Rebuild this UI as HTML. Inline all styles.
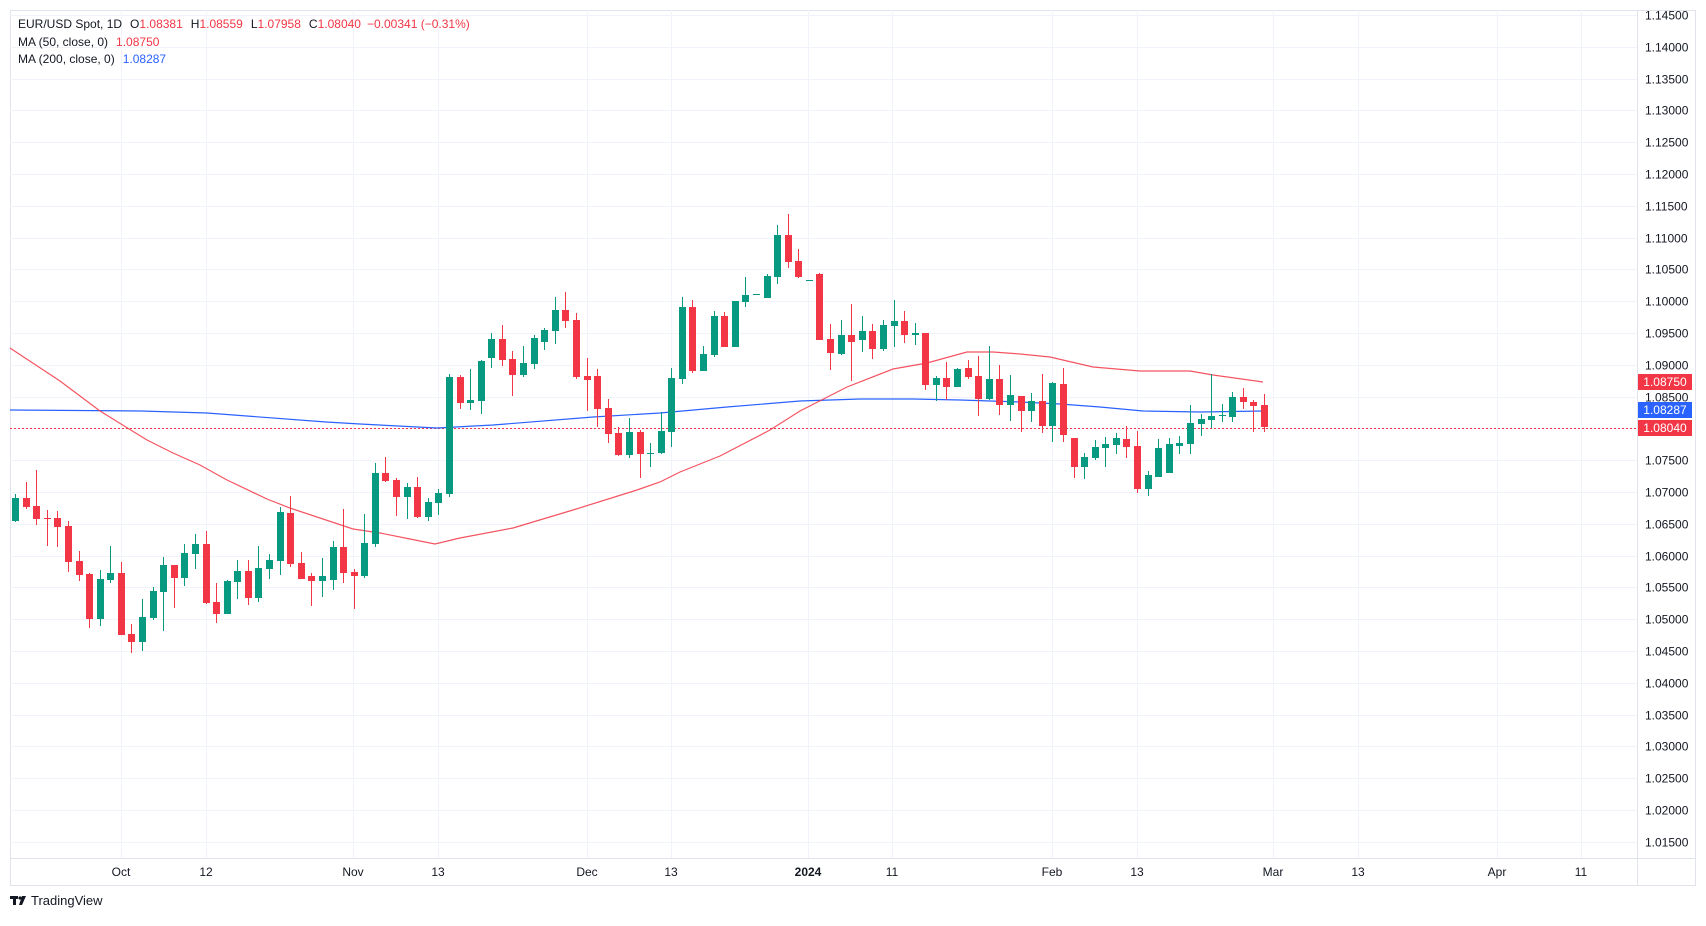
<!DOCTYPE html>
<html><head><meta charset="utf-8"><style>
html,body{margin:0;padding:0;background:#fff;}
body{width:1706px;height:921px;overflow:hidden;font-family:"Liberation Sans",sans-serif;}
svg text{font-family:"Liberation Sans",sans-serif;}
</style></head><body>
<svg id="s" width="1706" height="921" viewBox="0 0 1706 921" xmlns="http://www.w3.org/2000/svg">
<rect x="0" y="0" width="1706" height="921" fill="#fff"/>
<rect x="10.5" y="10.5" width="1685" height="875" fill="none" stroke="#e0e3eb"/>
<g id="grid" stroke="#f0f3fa" stroke-width="1"></g>
<line x1="1637.5" y1="10" x2="1637.5" y2="886" stroke="#e0e3eb"/>
<line x1="10" y1="858.5" x2="1696" y2="858.5" stroke="#e0e3eb"/>
<line x1="10" y1="428.5" x2="1637" y2="428.5" stroke="#f23645" stroke-dasharray="2,2" stroke-width="1"/>
<polyline fill="none" stroke="#2962ff" stroke-width="1.2" points="10,410 141,411 207,413 326,422 360,424 437,428 493,425 593,417 660,413 727,407 800,401 860,399 913,399 960,400 1020,402 1060,404 1100,407 1143,411 1200,412 1263,411"/>
<polyline fill="none" stroke="#f23645" stroke-opacity="0.85" stroke-width="1.2" points="10,348 60,381 100,411 147,440 173,453 200,465 227,480 267,499 290,508 353,529 380,533 410,539 435,544 460,538 513,528 573,510 637,490 660,482 680,472 720,456 770,430 800,411 847,387 893,369 927,363 967,352 993,352 1020,354 1050,357 1093,367 1140,371 1190,371 1213,375 1263,382"/>
<g id="candles"></g>
<g font-size="12" fill="#131722" id="plab"></g>
<g font-size="12" fill="#131722" text-anchor="middle">
<text x="121" y="876">Oct</text><text x="206" y="876">12</text><text x="353" y="876">Nov</text><text x="438" y="876">13</text><text x="587" y="876">Dec</text><text x="671" y="876">13</text><text x="808" y="876" font-weight="bold">2024</text><text x="892" y="876">11</text><text x="1052" y="876">Feb</text><text x="1137" y="876">13</text><text x="1273" y="876">Mar</text><text x="1358" y="876">13</text><text x="1497" y="876">Apr</text><text x="1581" y="876">11</text>
</g>
<rect x="1638" y="374" width="54" height="16" fill="#f23645"/>
<text x="1665" y="386" font-size="12" fill="#fff" text-anchor="middle">1.08750</text>
<rect x="1638" y="402" width="54" height="16" fill="#2962ff"/>
<text x="1665" y="414" font-size="12" fill="#fff" text-anchor="middle">1.08287</text>
<rect x="1638" y="420" width="54" height="16" fill="#f23645"/>
<text x="1665" y="432" font-size="12" fill="#fff" text-anchor="middle">1.08040</text>
<g font-size="12" fill="#131722">
<text x="18" y="28">EUR/USD Spot, 1D<tspan dx="8">O</tspan><tspan fill="#f23645">1.08381</tspan><tspan dx="8">H</tspan><tspan fill="#f23645">1.08559</tspan><tspan dx="8">L</tspan><tspan fill="#f23645">1.07958</tspan><tspan dx="8">C</tspan><tspan fill="#f23645">1.08040</tspan><tspan dx="6" fill="#f23645">−0.00341 (−0.31%)</tspan></text>
<text x="18" y="46">MA (50, close, 0)<tspan dx="8" fill="#f23645">1.08750</tspan></text>
<text x="18" y="63">MA (200, close, 0)<tspan dx="8" fill="#2962ff">1.08287</tspan></text>
</g>
<g transform="translate(10,896)"><rect x="0" y="0" width="8" height="3" fill="#131722"/><rect x="3" y="0" width="3" height="9" fill="#131722"/><circle cx="10" cy="2" r="1.6" fill="#131722"/><polygon points="12,0 16,0 12,9 9,9" fill="#131722"/>
<text x="21" y="9" font-size="13" fill="#131722">TradingView</text></g>
</svg>
<script>
var NS="http://www.w3.org/2000/svg";
var g=document.getElementById('grid');
function L(x1,y1,x2,y2,p){var l=document.createElementNS(NS,'line');l.setAttribute('x1',x1);l.setAttribute('y1',y1);l.setAttribute('x2',x2);l.setAttribute('y2',y2);p.appendChild(l);}
var pl=document.getElementById('plab');
for(var k=0;k<=26;k++){var y=Math.round(15+k*31.8)+0.5;L(10,y,1637,y,g);
 var t=document.createElementNS(NS,'text');t.setAttribute('x',1645);t.setAttribute('y',y+4);t.textContent=(1.145-k*0.005).toFixed(5);pl.appendChild(t);}
[121,206,353,438,587,671,808,892,1052,1137,1273,1358,1497,1581].forEach(function(x){L(x+0.5,10,x+0.5,858,g);});
var D="g 498 521 494 522|r 498 507 482 509|r 506 519 470 525|r 518 519 510 546|r 518 527 511 547|r 526 562 521 572|r 561 575 551 581|r 574 619 573 628|g 579 619 570 626|g 573 580 546 583|r 573 635 562 635|r 634 642 624 653|g 617 642 599 651|g 591 618 587 620|g 565 592 557 631|r 565 578 565 608|g 553 578 544 586|g 544 554 534 569|r 544 603 531 604|r 602 614 583 623|g 581 614 580 614|g 571 582 560 599|r 571 598 560 605|g 568 598 546 602|g 560 569 554 579|g 512 561 507 575|r 513 564 496 567|r 563 579 552 579|r 576 581 573 606|g 576 581 558 597|g 547 580 541 590|r 547 573 509 583|r 572 576 569 609|g 543 576 514 578|g 473 544 463 547|r 473 481 457 482|r 480 497 478 516|g 487 497 483 519|r 487 517 477 518|g 502 517 498 521|g 493 503 489 515|g 377 494 374 497|r 377 403 375 409|g 400 403 369 410|g 361 401 360 414|g 339 358 333 368|r 339 360 325 366|r 359 375 351 396|g 363 375 346 377|g 338 364 335 369|g 330 342 328 350|g 310 331 297 344|r 310 321 292 328|r 320 377 313 379|r 376 380 358 411|r 376 409 369 427|r 408 434 399 443|r 433 455 427 456|g 432 455 418 458|r 432 454 430 478|g 453 454 443 467|g 431 453 412 454|g 378 432 368 447|g 307 379 297 384|r 307 371 300 373|g 354 371 346 371|g 316 355 311 357|r 316 347 312 347|g 301 347 301 347|g 295 302 277 307|g 294 295 294 295|g 276 298 274 298|g 235 277 225 284|r 235 262 214 268|r 261 277 249 278|g 280 281 280 281|r 274 340 273 340|r 339 353 324 370|g 335 354 320 355|r 335 342 304 381|g 331 340 316 352|r 331 349 324 359|g 325 349 320 351|g 321 326 300 347|r 321 335 311 343|g 333 335 323 345|r 333 385 333 390|g 378 385 376 401|r 378 387 362 400|g 369 387 368 387|r 368 377 360 379|r 376 399 356 416|g 379 399 346 400|r 379 405 365 415|g 395 405 375 421|r 396 411 396 432|g 401 411 393 422|r 401 426 374 433|g 383 426 382 442|r 384 435 368 442|r 438 467 438 478|g 457 467 453 479|g 447 458 440 460|g 444 448 437 467|g 438 445 433 454|r 439 447 426 458|r 446 489 431 493|g 475 489 471 496|g 448 477 439 477|g 444 473 438 473|g 443 446 436 454|g 423 444 405 454|g 419 424 414 436|g 416 420 374 428|g 415 416 404 422|g 397 417 392 422|r 397 402 388 409|r 402 406 400 432|r 405 427 394 432";
var c=document.getElementById('candles');
D.split('|').forEach(function(s,i){var a=s.split(' ');var col=a[0]=='g'?'#089981':'#f23645';var t=+a[1],b=+a[2],h=+a[3],l=+a[4];
 var x=Math.round(15+i*10.585);
 var w=document.createElementNS(NS,'rect');w.setAttribute('x',x);w.setAttribute('y',h);w.setAttribute('width',1);w.setAttribute('height',Math.max(1,l-h));w.setAttribute('fill',col);c.appendChild(w);
 var r=document.createElementNS(NS,'rect');r.setAttribute('x',x-3);r.setAttribute('y',t);r.setAttribute('width',7);r.setAttribute('height',Math.max(1,b-t));r.setAttribute('fill',col);c.appendChild(r);});
</script>
</body></html>
